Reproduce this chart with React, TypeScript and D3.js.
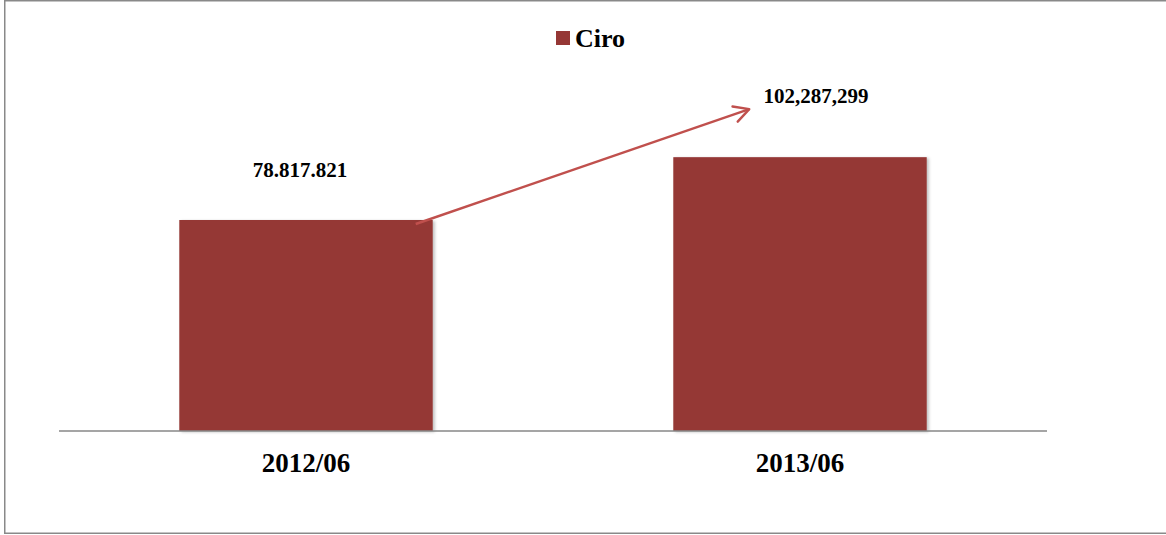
import * as d3 from 'd3'

const CATEGORIES = ['2012/06', '2013/06']
const VALUES = [78817821, 102287299]
const VALUE_LABELS = ['78.817.821', '102,287,299']
const SERIES_NAME = 'Ciro'

const WIDTH = 1166
const HEIGHT = 535
const BASELINE = 431
const AXIS_LEFT = 59
const AXIS_RIGHT = 1047
const BAR_COLOR = '#953735'
const ARROW_COLOR = '#c0504d'
const FONT = '"Liberation Serif", "Times New Roman", serif'

export default function App() {
  const x = d3
    .scaleBand<string>()
    .domain(CATEGORIES)
    .range([AXIS_LEFT, AXIS_RIGHT])
    .paddingInner(0.487)
    .paddingOuter(0.2435)
  // pixels per unit
  const y = d3
    .scaleLinear()
    .domain([0, 120000000])
    .range([BASELINE, BASELINE - (120000000 * 211) / 78817821])
  const bw = x.bandwidth()

  const x0 = (x(CATEGORIES[0]) ?? 0) + bw - 17
  const y0 = y(VALUES[0]) + 4
  const x1 = (x(CATEGORIES[1]) ?? 0) + 76
  const y1 = y(VALUES[1]) - 48

  return (
    <svg
      width={WIDTH}
      height={HEIGHT}
      viewBox={`0 0 ${WIDTH} ${HEIGHT}`}
      style={{ position: 'absolute', left: 0, top: 0, background: '#fff' }}
      fontFamily={FONT}
    >
      <defs>
        <filter id="barShadow" x="-10%" y="-10%" width="130%" height="120%">
          <feDropShadow dx="2" dy="1" stdDeviation="1.5" floodColor="#000" floodOpacity="0.25" />
        </filter>
        <marker
          id="arrowHead"
          viewBox="0 0 20 20"
          refX="18"
          refY="10"
          markerWidth="20"
          markerHeight="20"
          markerUnits="userSpaceOnUse"
          orient="auto"
        >
          <path d="M3,2 L18,10 L3,18" fill="none" stroke={ARROW_COLOR} strokeWidth="2.4" strokeLinecap="round" strokeLinejoin="round" />
        </marker>
      </defs>

      <rect x={4.75} y={0.75} width={WIDTH + 10} height={532.5} fill="none" stroke="#898989" strokeWidth="1.5" />

      {/* legend */}
      <rect x={556} y={31} width={14} height={14} fill={BAR_COLOR} />
      <text x={575} y={47} fontSize="26" fontWeight="bold" fill="#000">
        {SERIES_NAME}
      </text>

      {/* bars */}
      {CATEGORIES.map((c, i) => (
        <rect
          key={c}
          x={x(c)}
          y={y(VALUES[i])}
          width={bw}
          height={BASELINE - y(VALUES[i])}
          fill={BAR_COLOR}
          filter="url(#barShadow)"
        />
      ))}

      {/* axis */}
      <line x1={AXIS_LEFT} x2={AXIS_RIGHT} y1={BASELINE} y2={BASELINE} stroke="#878787" strokeWidth="1.6" />

      {CATEGORIES.map((c) => (
        <text
          key={c}
          x={(x(c) ?? 0) + bw / 2}
          y={472}
          textAnchor="middle"
          fontSize="27"
          fontWeight="bold"
          fill="#000"
        >
          {c}
        </text>
      ))}

      {/* value labels */}
      <text x={(x(CATEGORIES[0]) ?? 0) + bw / 2 - 6} y={y(VALUES[0]) - 43} textAnchor="middle" fontSize="21" fontWeight="bold" fill="#000">
        {VALUE_LABELS[0]}
      </text>
      <text x={(x(CATEGORIES[1]) ?? 0) + bw / 2 + 16} y={y(VALUES[1]) - 54} textAnchor="middle" fontSize="21" fontWeight="bold" fill="#000">
        {VALUE_LABELS[1]}
      </text>

      {/* growth arrow */}
      <line x1={x0} y1={y0} x2={x1} y2={y1} stroke={ARROW_COLOR} strokeWidth="2.4" markerEnd="url(#arrowHead)" />
    </svg>
  )
}
